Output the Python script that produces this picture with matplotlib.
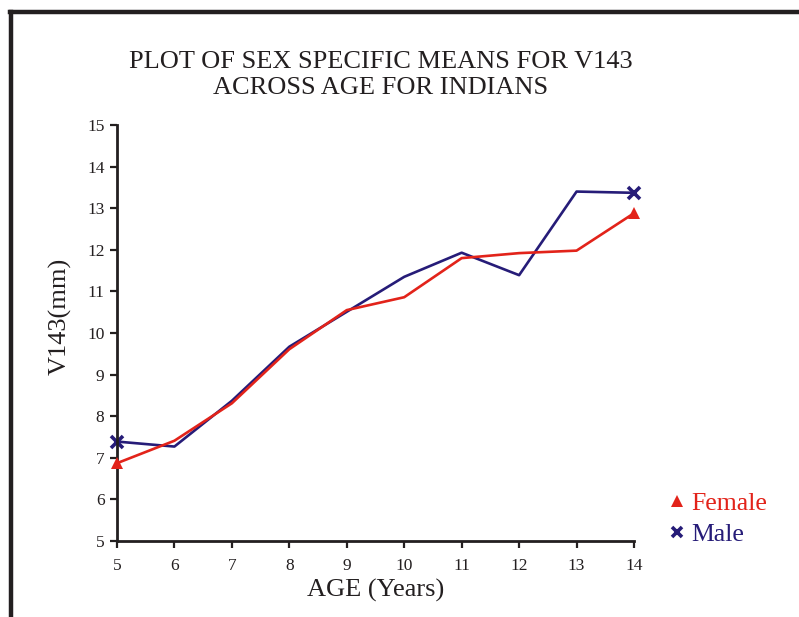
import matplotlib
matplotlib.use('Agg')
import matplotlib.pyplot as plt
from matplotlib.lines import Line2D

plt.rcParams['font.family'] = ['Liberation Serif', 'DejaVu Serif']

# data
ages = [5, 6, 7, 8, 9, 10, 11, 12, 13, 14]
female = [6.87, 7.41, 8.31, 9.61, 10.55, 10.86, 11.80, 11.92, 11.98, 12.88]
male = [7.39, 7.27, 8.37, 9.67, 10.51, 11.35, 11.93, 11.39, 13.40, 13.37]
y_ticks = [5, 6, 7, 8, 9, 10, 11, 12, 13, 14, 15]

RED = '#E2231A'
NAVY = '#261C78'
INK = '#231F20'

fig = plt.figure(figsize=(7.99, 6.17), dpi=100)
ax = fig.add_axes([0.1464, 0.1232, 0.6471, 0.6742])

ax.plot(ages, female, color=RED, lw=1.9, marker='^', markevery=[0, len(ages) - 1],
        markersize=8, markeredgewidth=0, zorder=3, clip_on=False)
ax.plot(ages, male, color=NAVY, lw=1.9, marker='x', markevery=[0, len(ages) - 1],
        markersize=8, markeredgewidth=2.6, zorder=2, clip_on=False)

ax.set_xlim(5, 14)
ax.set_ylim(5, 15)
ax.set_xticks(ages)
ax.set_yticks(y_ticks)
ax.tick_params(direction='out', length=5, width=1.6, color=INK,
               labelsize=12.5, labelcolor=INK)
ax.tick_params(axis='x', pad=7)
ax.tick_params(axis='y', pad=4)
for side in ['top', 'right']:
    ax.spines[side].set_visible(False)
for side in ['left', 'bottom']:
    ax.spines[side].set_linewidth(2.0)
    ax.spines[side].set_color(INK)

ax.set_xlabel('AGE (Years)', fontsize=19, color=INK, labelpad=4)
ax.set_ylabel('V143(mm)', fontsize=19, color=INK)
ax.yaxis.set_label_coords(-0.088, 0.54)

fig.text(0.476, 0.879, 'PLOT OF SEX SPECIFIC MEANS FOR V143\nACROSS AGE FOR INDIANS',
         ha='center', va='center', fontsize=19, color=INK, linespacing=1.25)

# legend with coloured labels
handles = [Line2D([], [], color=RED, marker='^', linestyle='none', markersize=8, markeredgewidth=0),
           Line2D([], [], color=NAVY, marker='x', linestyle='none', markersize=7, markeredgewidth=2.6)]
leg = fig.legend(handles, ['Female', 'Male'], loc='center left', bbox_to_anchor=(0.823, 0.159),
                 frameon=False, fontsize=18.5, handlelength=0.5, handletextpad=0.3,
                 labelspacing=0.3, borderpad=0)
for txt, c in zip(leg.get_texts(), [RED, NAVY]):
    txt.set_color(c)

# frame lines at top and left
fig.add_artist(Line2D([0.0125, 1.0], [0.9805, 0.9805], transform=fig.transFigure,
                      color=INK, lw=3.2))
fig.add_artist(Line2D([0.0138, 0.0138], [0.0, 0.9805], transform=fig.transFigure,
                      color=INK, lw=3.2))

fig.savefig('out.png', dpi=100)
